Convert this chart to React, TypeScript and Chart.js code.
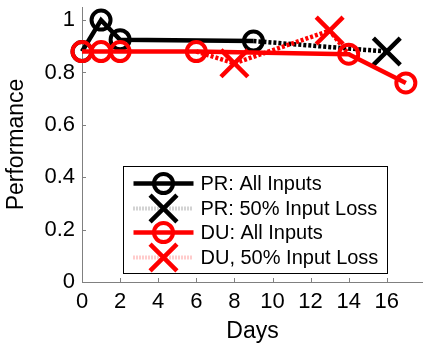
import React, { useEffect, useRef } from 'react';
import { Chart, registerables } from 'chart.js';
Chart.register(...registerables);

const FONT = "'Liberation Sans', Arial, Helvetica, sans-serif";

const xTickValues = [0, 2, 4, 6, 8, 10, 12, 14, 16];
const yTickValues = [0, 0.2, 0.4, 0.6, 0.8, 1];

const prAllDays = [0, 1, 2, 9];
const prAllPerf = [0.88, 1.0, 0.925, 0.92];
const prLossDays = [9, 16];
const prLossPerf = [0.92, 0.88];
const duAllDays = [0, 1, 2, 6, 14, 17];
const duAllPerf = [0.88, 0.88, 0.88, 0.88, 0.87, 0.76];
const duLossDays = [6, 8, 13, 14];
const duLossPerf = [0.88, 0.835, 0.96, 0.87];

const legendLabels = ['PR: All Inputs', 'PR: 50% Input Loss', 'DU: All Inputs', 'DU, 50% Input Loss'];

const AXIS_GRAY = '#808080';
const RED = '#ff0000';
const BLACK = '#000000';
const CIRCLE_R = 9.5;
const X_R = 19;

function pts(xs: number[], ys: number[]) {
  return xs.map((x, i) => ({ x, y: ys[i] }));
}

function drawCircle(ctx: CanvasRenderingContext2D, x: number, y: number, color: string) {
  ctx.save();
  ctx.strokeStyle = color;
  ctx.lineWidth = 4;
  ctx.beginPath();
  ctx.arc(x, y, CIRCLE_R, 0, Math.PI * 2);
  ctx.stroke();
  ctx.restore();
}

function drawX(ctx: CanvasRenderingContext2D, x: number, y: number, color: string) {
  const d = X_R * Math.SQRT1_2;
  ctx.save();
  ctx.strokeStyle = color;
  ctx.lineWidth = 4.5;
  ctx.beginPath();
  ctx.moveTo(x - d, y - d);
  ctx.lineTo(x + d, y + d);
  ctx.moveTo(x + d, y - d);
  ctx.lineTo(x - d, y + d);
  ctx.stroke();
  ctx.restore();
}

const axesPlugin = {
  id: 'matlabAxes',
  beforeDatasetsDraw(chart: any) {
    const ctx = chart.ctx;
    const { left, bottom } = chart.chartArea;
    const xs = chart.scales.x;
    const ys = chart.scales.y;
    ctx.save();
    ctx.strokeStyle = AXIS_GRAY;
    ctx.lineWidth = 1;
    ctx.beginPath();
    xTickValues.forEach((v) => {
      const px = Math.round(xs.getPixelForValue(v)) + 0.5;
      ctx.moveTo(px, bottom);
      ctx.lineTo(px, bottom - 4);
    });
    yTickValues.forEach((v) => {
      const py = Math.round(ys.getPixelForValue(v)) + 0.5;
      ctx.moveTo(left, py);
      ctx.lineTo(left + 4, py);
    });
    ctx.stroke();
    ctx.restore();
  },
};

const legendPlugin = {
  id: 'boxLegend',
  afterDatasetsDraw(chart: any) {
    const ctx = chart.ctx;
    const { left, top } = chart.chartArea;
    const bx = left + 41.5;
    const by = top + 159.5;
    const bw = 264;
    const bh = 107;
    ctx.save();
    ctx.fillStyle = '#ffffff';
    ctx.fillRect(bx, by, bw, bh);
    ctx.strokeStyle = '#000000';
    ctx.lineWidth = 1;
    ctx.strokeRect(bx, by, bw, bh);

    const rows = [17, 42, 66, 91];
    const x0 = bx + 10;
    const x1 = bx + 70;
    const xm = bx + 40;
    const styles = [
      { color: BLACK, dashed: false, faint: '' },
      { color: BLACK, dashed: true, faint: 'rgba(0,0,0,0.35)' },
      { color: RED, dashed: false, faint: '' },
      { color: RED, dashed: true, faint: 'rgba(255,0,0,0.4)' },
    ];
    rows.forEach((ry, i) => {
      const y = by + ry;
      const s = styles[i];
      ctx.save();
      if (s.dashed) {
        ctx.strokeStyle = s.faint;
        ctx.lineWidth = 4;
        ctx.setLineDash([1, 2]);
      } else {
        ctx.strokeStyle = s.color;
        ctx.lineWidth = 4.5;
      }
      ctx.beginPath();
      ctx.moveTo(x0, y);
      ctx.lineTo(x1, y);
      ctx.stroke();
      ctx.restore();
    });
    rows.forEach((ry, i) => {
      const y = by + ry;
      const s = styles[i];
      if (s.dashed) drawX(ctx, xm, y, s.color);
      else drawCircle(ctx, xm, y, s.color);
    });
    ctx.fillStyle = '#000000';
    ctx.font = `20px ${FONT}`;
    ctx.textBaseline = 'middle';
    ctx.textAlign = 'left';
    rows.forEach((ry, i) => {
      ctx.fillText(legendLabels[i], bx + 77, by + ry + 1);
    });
    ctx.restore();
  },
};

export default function App() {
  const ref = useRef<HTMLCanvasElement | null>(null);
  useEffect(() => {
    if (!ref.current) return;
    const chart = new Chart(ref.current, {
      type: 'line',
      data: {
        datasets: [
          {
            label: legendLabels[0],
            data: pts(prAllDays, prAllPerf),
            borderColor: BLACK,
            borderWidth: 4.5,
            pointStyle: 'circle',
            pointRadius: CIRCLE_R,
            pointBorderWidth: 4,
            pointBorderColor: BLACK,
            pointBackgroundColor: 'rgba(0,0,0,0)',
            tension: 0,
            clip: false as any,
            order: 4,
          },
          {
            label: legendLabels[1],
            data: pts(prLossDays, prLossPerf),
            borderColor: BLACK,
            borderWidth: 4.5,
            borderDash: [3, 2],
            pointStyle: 'crossRot',
            pointRadius: prLossDays.map((_, i) => (i === 0 ? 0 : X_R)),
            pointBorderWidth: 4.5,
            pointBorderColor: BLACK,
            tension: 0,
            clip: false as any,
            order: 3,
          },
          {
            label: legendLabels[2],
            data: pts(duAllDays, duAllPerf),
            borderColor: RED,
            borderWidth: 4.5,
            pointStyle: 'circle',
            pointRadius: CIRCLE_R,
            pointBorderWidth: 4,
            pointBorderColor: RED,
            pointBackgroundColor: 'rgba(0,0,0,0)',
            tension: 0,
            clip: false as any,
            order: 2,
          },
          {
            label: legendLabels[3],
            data: pts(duLossDays, duLossPerf),
            borderColor: RED,
            borderWidth: 4.5,
            borderDash: [3, 2],
            pointStyle: 'crossRot',
            pointRadius: duLossDays.map((_, i) => (i === 0 || i === duLossDays.length - 1 ? 0 : X_R)),
            pointBorderWidth: 4.5,
            pointBorderColor: RED,
            tension: 0,
            clip: false as any,
            order: 1,
          },
        ],
      },
      options: {
        animation: false,
        responsive: false,
        maintainAspectRatio: false,
        layout: { autoPadding: false, padding: { top: 7, left: 0, right: 0, bottom: 0 } },
        plugins: { legend: { display: false }, tooltip: { enabled: false } },
        scales: {
          x: {
            type: 'linear',
            min: 0,
            max: 17.9,
            grid: { display: false, drawTicks: false },
            border: { display: true, color: AXIS_GRAY, width: 1 },
            afterBuildTicks: (scale: any) => {
              scale.ticks = xTickValues.map((v) => ({ value: v }));
            },
            afterFit: (scale: any) => {
              scale.height = 63;
              scale.paddingLeft = 0;
              scale.paddingRight = 0;
              scale.paddingTop = 0;
              scale.paddingBottom = 0;
            },
            ticks: {
              color: '#000',
              font: { family: FONT, size: 22 },
              padding: 7,
              maxRotation: 0,
              autoSkip: false,
              callback: (v: any) => String(v),
            },
            title: {
              display: true,
              text: 'Days',
              color: '#000',
              font: { family: FONT, size: 23 },
              padding: { top: 0, bottom: 0 },
            },
          },
          y: {
            type: 'linear',
            min: 0,
            max: 1.05,
            grid: { display: false, drawTicks: false },
            border: { display: true, color: AXIS_GRAY, width: 1 },
            afterBuildTicks: (scale: any) => {
              scale.ticks = yTickValues.map((v) => ({ value: v }));
            },
            afterFit: (scale: any) => {
              scale.width = 82;
              scale.paddingLeft = 0;
              scale.paddingRight = 0;
              scale.paddingTop = 0;
              scale.paddingBottom = 0;
            },
            ticks: {
              color: '#000',
              font: { family: FONT, size: 22 },
              padding: 7,
              autoSkip: false,
              callback: (v: any) => String(Math.round(Number(v) * 10) / 10),
            },
            title: {
              display: true,
              text: 'Performance',
              color: '#000',
              font: { family: FONT, size: 23 },
              padding: { top: 3, bottom: 0 },
            },
          },
        },
      },
      plugins: [axesPlugin, legendPlugin],
    });
    return () => chart.destroy();
  }, []);
  return (
    <div style={{ position: 'fixed', left: 0, top: 0, width: 423, height: 345, background: '#fff' }}>
      <canvas ref={ref} width={423} height={345} style={{ width: 423, height: 345 }} />
    </div>
  );
}
